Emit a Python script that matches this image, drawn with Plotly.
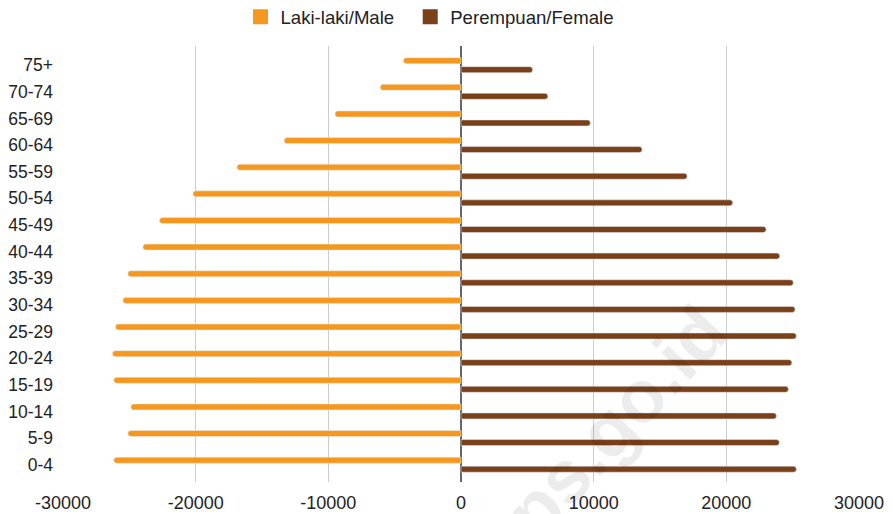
import plotly.graph_objects as go

age_groups = ["75+", "70-74", "65-69", "60-64", "55-59", "50-54", "45-49", "40-44",
              "35-39", "30-34", "25-29", "20-24", "15-19", "10-14", "5-9", "0-4"]
male = [4350, 6090, 9500, 13330, 16890, 20210, 22730, 23980,
        25110, 25490, 26050, 26270, 26170, 24890, 25110, 26170]
female = [5400, 6550, 9750, 13650, 17050, 20480, 23000, 24030,
          25050, 25180, 25280, 24940, 24680, 23780, 24000, 25280]
x_ticks = [-30000, -20000, -10000, 0, 10000, 20000, 30000]

male_color = "#F7981E"
female_color = "#7A4019"
font_family = "Liberation Sans, Arial, sans-serif"

fig = go.Figure()
fig.add_trace(go.Bar(y=age_groups, x=[-v for v in male], orientation="h",
                     marker_color=male_color, name="Laki-laki/Male", showlegend=False))
fig.add_trace(go.Bar(y=age_groups, x=female, orientation="h",
                     marker_color=female_color, name="Perempuan/Female", showlegend=False))
# legend entries
fig.add_trace(go.Scatter(x=[None], y=[None], mode="markers", name="Laki-laki/Male",
                         legend="legend",
                         marker=dict(symbol="square", size=15, color=male_color)))
fig.add_trace(go.Scatter(x=[None], y=[None], mode="markers", name="Perempuan/Female",
                         legend="legend2",
                         marker=dict(symbol="square", size=15, color=female_color)))

fig.add_annotation(text="<b>bps.go.id</b>", x=0.675, y=0.1, xref="paper", yref="paper",
                   xanchor="center", yanchor="middle",
                   showarrow=False, textangle=-47,
                   font=dict(family="Liberation Sans, Arial", size=74, color="rgba(0,0,0,0.075)"))

legend_common = dict(orientation="h", xanchor="left", y=0.982, yanchor="middle",
                     yref="container", font=dict(size=18.6, color="#222222"),
                     itemclick=False, bgcolor="rgba(0,0,0,0)")

fig.update_layout(
    width=885, height=506,
    margin=dict(l=55, r=34, t=38, b=32),
    paper_bgcolor="white", plot_bgcolor="white",
    barmode="group", bargap=0.324, bargroupgap=0.334, barcornerradius=3,
    font=dict(family=font_family, size=18, color="#222222"),
    legend=dict(x=0.2230, **legend_common),
    legend2=dict(x=0.4362, **legend_common),
    xaxis=dict(range=[-30000, 30000], tickvals=x_ticks, ticktext=[str(v) for v in x_ticks],
               showgrid=True, gridcolor="#CCCCCC", gridwidth=1,
               zeroline=True, zerolinecolor="#666666", zerolinewidth=2,
               ticks="", ticklabelstandoff=8, fixedrange=True, automargin=False,
               tickfont=dict(size=18, color="#222222")),
    yaxis=dict(type="category", categoryorder="array", categoryarray=age_groups,
               range=[15.65, -0.72], showgrid=False, zeroline=False, ticks="",
               automargin=False,
               ticklabelstandoff=9, tickfont=dict(size=17.5, color="#222222")),
)

fig.write_html("out.html")
